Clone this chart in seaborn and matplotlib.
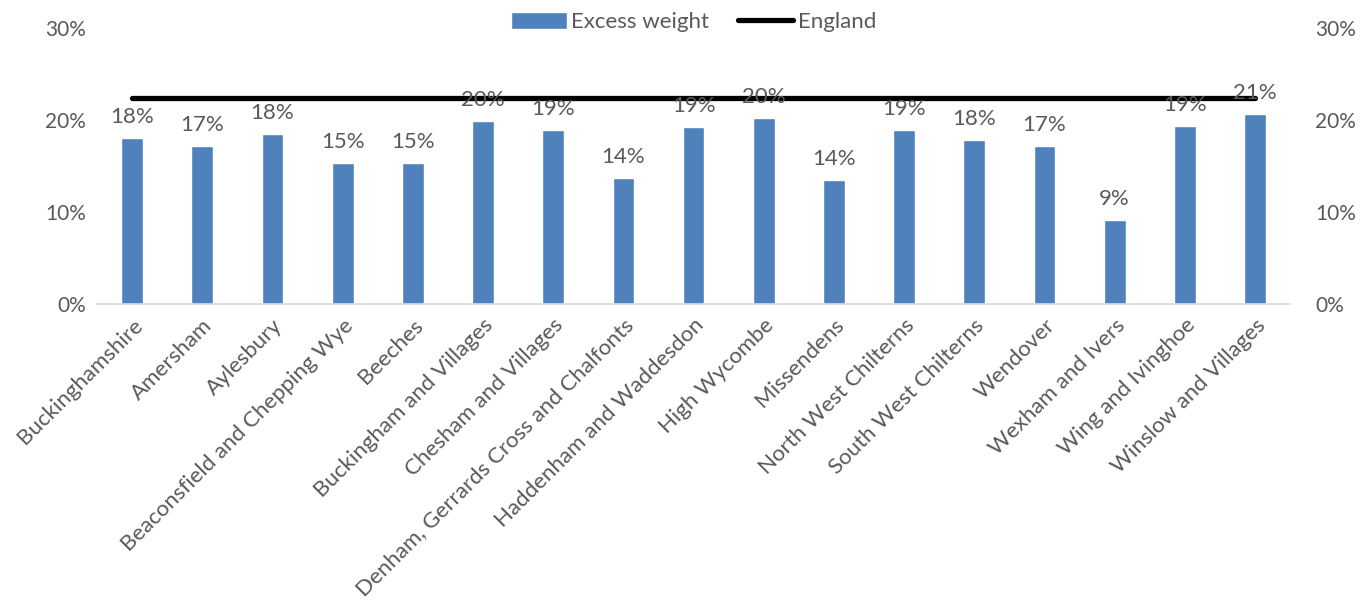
import numpy as np
import pandas as pd
from matplotlib import pyplot as plt
import seaborn as sns

areas = ["Buckinghamshire", "Amersham", "Aylesbury", "Beaconsfield and Chepping Wye",
         "Beeches", "Buckingham and Villages", "Chesham and Villages",
         "Denham, Gerrards Cross and Chalfonts", "Haddenham and Waddesdon",
         "High Wycombe", "Missendens", "North West Chilterns", "South West Chilterns",
         "Wendover", "Wexham and Ivers", "Wing and Ivinghoe", "Winslow and Villages"]
excess_weight = [18.0, 17.2, 18.5, 15.3, 15.3, 19.9, 18.9, 13.7, 19.2, 20.2,
                 13.5, 18.9, 17.8, 17.2, 9.1, 19.3, 20.7]
england = [22.4] * len(areas)
yticks = [0, 10, 20, 30]

df = pd.DataFrame({"area": areas, "excess": excess_weight, "england": england})

sns.set_style("white")
plt.rcParams["font.family"] = ["Lato", "DejaVu Sans"]
grey = "#595959"
fs = 15

fig = plt.figure(figsize=(13.71, 6.05), dpi=100)
ax = fig.add_axes([0.0708, 0.4975, 0.8702, 0.4562])

sns.barplot(data=df, x="area", y="excess", color="#4F81BD", width=0.31,
            saturation=1, ax=ax, label="Excess weight")
sns.lineplot(data=df, x="area", y="england", color="black", linewidth=3.8,
             ax=ax, label="England", solid_capstyle="round")

for i, v in enumerate(excess_weight):
    ax.text(i, v + 1.2, f"{round(v):.0f}%", ha="center", va="bottom",
            fontsize=16, color=grey)

ax.set_ylim(0, 30)
ax.set_xlim(-0.5, len(areas) - 0.5)
ax.set_yticks(yticks)
ax.set_yticklabels([f"{t}%" for t in yticks], fontsize=fs, color=grey)
ax.set_xticks(range(len(areas)))
ax.set_xticklabels(areas, rotation=45, ha="right", rotation_mode="anchor",
                   fontsize=16, color=grey)
ax.tick_params(axis="both", length=0, pad=8)
ax.set_xlabel("")
ax.set_ylabel("")
for s in ["top", "right", "left"]:
    ax.spines[s].set_visible(False)
ax.spines["bottom"].set_color("#d9d9d9")
ax.spines["bottom"].set_linewidth(1.2)

ax2 = ax.twinx()
ax2.set_ylim(0, 30)
ax2.set_yticks(yticks)
ax2.set_yticklabels([f"{t}%" for t in yticks], fontsize=fs, color=grey)
ax2.tick_params(axis="y", length=0, pad=18)
for s in ax2.spines.values():
    s.set_visible(False)

handles, labels = ax.get_legend_handles_labels()
order = [labels.index("Excess weight"), labels.index("England")]
ax.legend([handles[i] for i in order], [labels[i] for i in order],
          loc="upper center", bbox_to_anchor=(0.5, 1.13), ncol=2, frameon=False,
          fontsize=16, labelcolor=grey, handlelength=2.5, handleheight=0.8,
          handletextpad=0.2, columnspacing=1.3)

fig.savefig("out.png", dpi=100)
